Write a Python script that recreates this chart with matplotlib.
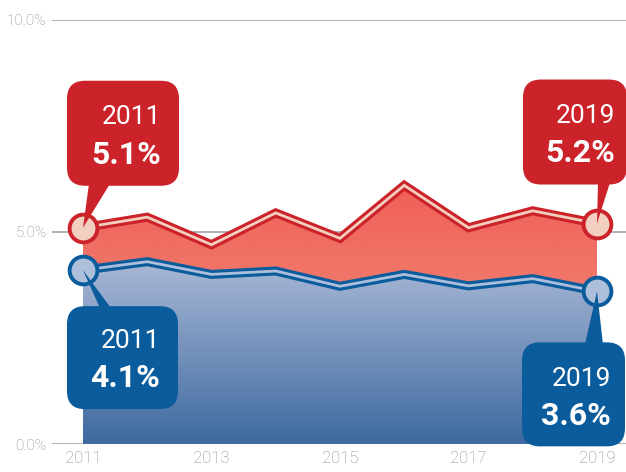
import numpy as np
import matplotlib
matplotlib.use("Agg")
import matplotlib.pyplot as plt
import matplotlib.transforms as mtransforms
from matplotlib.patches import FancyBboxPatch, Polygon
from matplotlib.colors import LinearSegmentedColormap

years = [2011, 2012, 2013, 2014, 2015, 2016, 2017, 2018, 2019]
red_vals = [5.1, 5.35, 4.7, 5.45, 4.85, 6.1, 5.1, 5.5, 5.2]
blue_vals = [4.1, 4.3, 4.0, 4.08, 3.72, 4.0, 3.73, 3.9, 3.6]
xtick_years = [2011, 2013, 2015, 2017, 2019]
ytick_vals = [0, 5, 10]
ytick_labels = ["0.0%", "5.0%", "10.0%"]

RED = "#cc2229"
RED_LIGHT = "#f3cfc0"
BLUE = "#0b5c9c"
BLUE_LIGHT = "#aebfdc"
GRID = "#aaaaaa"
TICK = "#8a8a8a"
FONT = "Roboto"

W, H = 626, 472
fig = plt.figure(figsize=(W / 100, H / 100), dpi=100)
ax = fig.add_axes([52 / W, (H - 444) / H, 574 / W, 424 / H])
for s in ax.spines.values():
    s.set_visible(False)

for v in ytick_vals:
    ax.axhline(v, color=GRID, lw=1.3, zorder=0)

ax.set_yticks(ytick_vals)
ax.set_yticklabels(ytick_labels, fontfamily=FONT, fontweight="light", fontsize=11, color=TICK)
ax.set_xticks(xtick_years)
ax.set_xticklabels([str(y) for y in xtick_years], fontfamily=FONT, fontweight="light", fontsize=12, color=TICK)
ax.tick_params(axis="y", length=0, pad=4)
ax.tick_params(axis="x", length=0, pad=5)

x = np.array(years, dtype=float)
r = np.array(red_vals)
b = np.array(blue_vals)

def grad_fill(lower, upper, c_top, c_bot, z):
    poly = ax.fill_between(x, lower, upper, color="none", lw=0, zorder=z)
    cmap = LinearSegmentedColormap.from_list("g", [c_bot, c_top])
    top = max(upper)
    bot = min(lower)
    grad = np.linspace(0, 1, 256).reshape(-1, 1)
    im = ax.imshow(grad, extent=[x[0], x[-1], bot, top], origin="lower",
                   cmap=cmap, aspect="auto", zorder=z)
    im.set_clip_path(poly.get_paths()[0], transform=ax.transData)

grad_fill(np.zeros_like(b), b, "#a9b8d6", "#3e6aa0", 1)
grad_fill(b, r, "#f05e58", "#f07a6b", 1)
ax.set_xlim(2011 - 31 / 64.25, 2019 + 29 / 64.25)
ax.set_ylim(0, 10)

ax.plot(x, r, color=RED, lw=6.5, zorder=3, solid_joinstyle="miter")
ax.plot(x, r, color=RED_LIGHT, lw=2.0, zorder=4, solid_joinstyle="miter")
ax.plot(x, b, color=BLUE, lw=6.5, zorder=3, solid_joinstyle="miter")
ax.plot(x, b, color=BLUE_LIGHT, lw=2.0, zorder=4, solid_joinstyle="miter")

for vals, ec, fc in [(r, RED, RED_LIGHT), (b, BLUE, BLUE_LIGHT)]:
    ax.plot([x[0], x[-1]], [vals[0], vals[-1]], "o", ms=20, mfc=fc, mec=ec,
            mew=2.8, zorder=5, clip_on=False)

T = mtransforms.Affine2D().scale(1 / 100, -1 / 100).translate(0, H / 100) + fig.dpi_scale_trans

def to_px(xv, yv):
    d = ax.transData.transform((xv, yv))
    return d[0] * 100 / fig.dpi, H - d[1] * 100 / fig.dpi

def callout(xv, yv, color, box, tail, year_txt, val_txt, ty1, ty2, tx):
    mx, my = to_px(xv, yv)
    x0, x1, y0, y1 = box
    p = FancyBboxPatch((mx + x0, my + y0), x1 - x0, y1 - y0,
                       boxstyle="round,pad=0,rounding_size=18", fc=color, ec="none",
                       transform=T, zorder=6, clip_on=False)
    fig.add_artist(p)
    (bx0, bx1, by) = tail
    tri = Polygon([(mx + bx0, my + by), (mx + bx1, my + by), (mx, my)], closed=True,
                  fc=color, ec="none", transform=T, zorder=6, clip_on=False)
    fig.add_artist(tri)
    fig.text(mx + tx, my + ty1, year_txt, transform=T, ha="right", va="center",
             fontfamily=FONT, fontweight="normal", fontsize=19, color="white", zorder=7)
    fig.text(mx + tx, my + ty2, val_txt, transform=T, ha="right", va="center",
             fontfamily=FONT, fontweight="bold", fontsize=23, color="white", zorder=7)

callout(x[0], r[0], RED, (-16, 96, -147, -42), (6, 27, -44), "2011", f"{red_vals[0]:.1f}%", -111, -73, 78)
callout(x[-1], r[-1], RED, (-74, 30, -144, -39), (1, 13, -41), "2019", f"{red_vals[-1]:.1f}%", -108, -71, 18)
callout(x[0], b[0], BLUE, (-16, 95, 36, 139), (17, 28, 38), "2011", f"{blue_vals[0]:.1f}%", 71, 108, 77)
callout(x[-1], b[-1], BLUE, (-75, 28, 51, 155), (-12, 6, 53), "2019", f"{blue_vals[-1]:.1f}%", 88, 125, 14)

fig.savefig("out.png", dpi=100)
